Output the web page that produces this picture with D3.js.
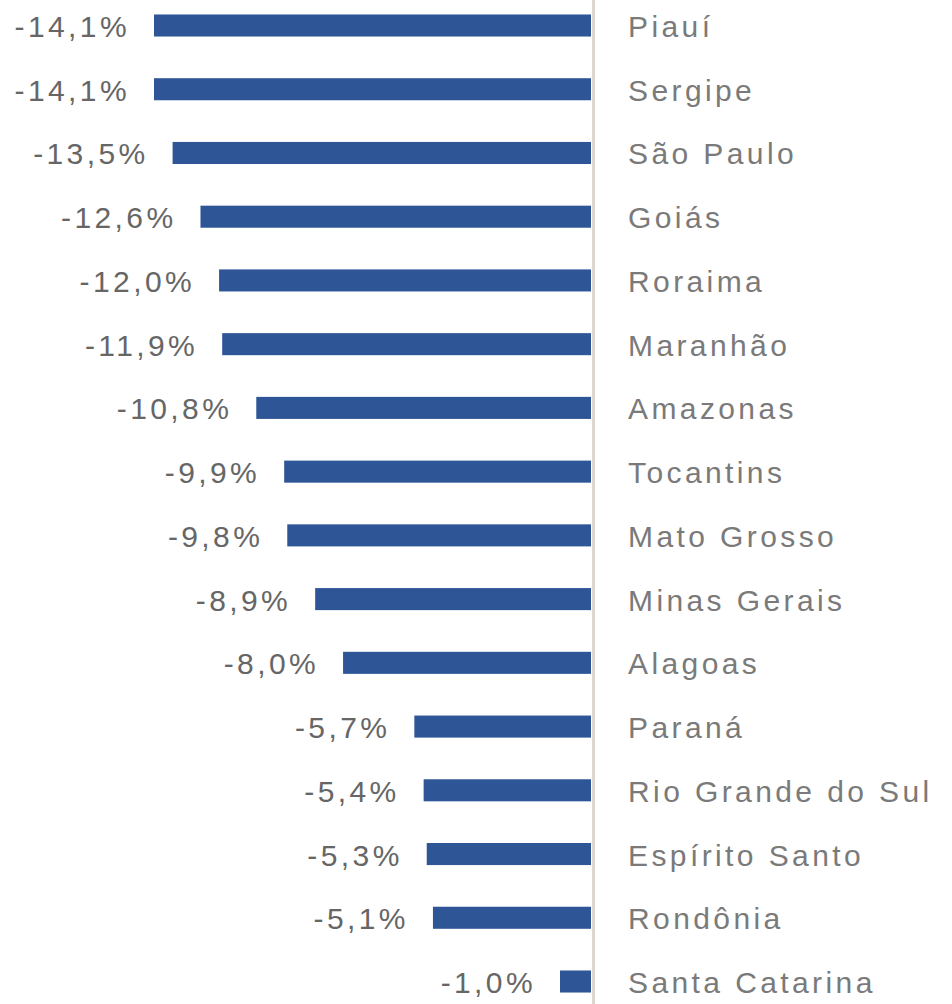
<!DOCTYPE html>
<html>
<head>
<meta charset="utf-8">
<script src="https://cdn.jsdelivr.net/npm/d3@7/dist/d3.min.js"></script>
<style>
  html, body { margin: 0; padding: 0; background: #fff; }
  text { font-family: "Liberation Sans", Arial, sans-serif; }
</style>
</head>
<body>
<div id="chart"></div>
<script>
const states = ['Piauí', 'Sergipe', 'São Paulo', 'Goiás', 'Roraima', 'Maranhão', 'Amazonas',
                'Tocantins', 'Mato Grosso', 'Minas Gerais', 'Alagoas', 'Paraná',
                'Rio Grande do Sul', 'Espírito Santo', 'Rondônia', 'Santa Catarina']
const values = [-14.1, -14.1, -13.5, -12.6, -12.0, -11.9, -10.8, -9.9, -9.8, -8.9, -8.0,
                -5.7, -5.4, -5.3, -5.1, -1.0]

const width = 952
const height = 1004

const svg = d3.select('#chart').append('svg')
              .attr('width', width)
              .attr('height', height)

// zero sits at the right end of the bars
const x = d3.scaleLinear()
            .domain([-14.1, 0])
            .range([154, 591])

const y = d3.scaleBand()
            .domain(states)
            .range([3, 1004])
            .paddingInner(0.654)
            .paddingOuter(0.18)

const fmt = v => d3.format('.1f')(v).replace('.', ',').replace('−', '-') + '%'

svg.selectAll('rect.bar')
   .data(values)
   .enter().append('rect')
   .attr('class', 'bar')
   .attr('x', d => x(d))
   .attr('y', (d, i) => y(states[i]))
   .attr('width', d => x(0) - x(d))
   .attr('height', y.bandwidth())
   .attr('fill', '#2e5596')

// axis line
svg.append('line')
   .attr('x1', x(0) + 2.5).attr('x2', x(0) + 2.5)
   .attr('y1', 0).attr('y2', height)
   .attr('stroke', '#dcd8d0')
   .attr('stroke-width', 3)

svg.selectAll('text.val')
   .data(values)
   .enter().append('text')
   .attr('class', 'val')
   .attr('x', d => x(d) - 24)
   .attr('y', (d, i) => y(states[i]) + y.bandwidth() / 2 + 1)
   .attr('text-anchor', 'end')
   .attr('dominant-baseline', 'central')
   .attr('font-size', 30)
   .attr('letter-spacing', 3.4)
   .attr('fill', '#666')
   .text(fmt)

svg.selectAll('text.cat')
   .data(states)
   .enter().append('text')
   .attr('class', 'cat')
   .attr('x', 628)
   .attr('y', d => y(d) + y.bandwidth() / 2 + 1)
   .attr('dominant-baseline', 'central')
   .attr('font-size', 30)
   .attr('letter-spacing', 3.4)
   .attr('fill', '#7a7a7a')
   .text(d => d)
</script>
</body>
</html>
